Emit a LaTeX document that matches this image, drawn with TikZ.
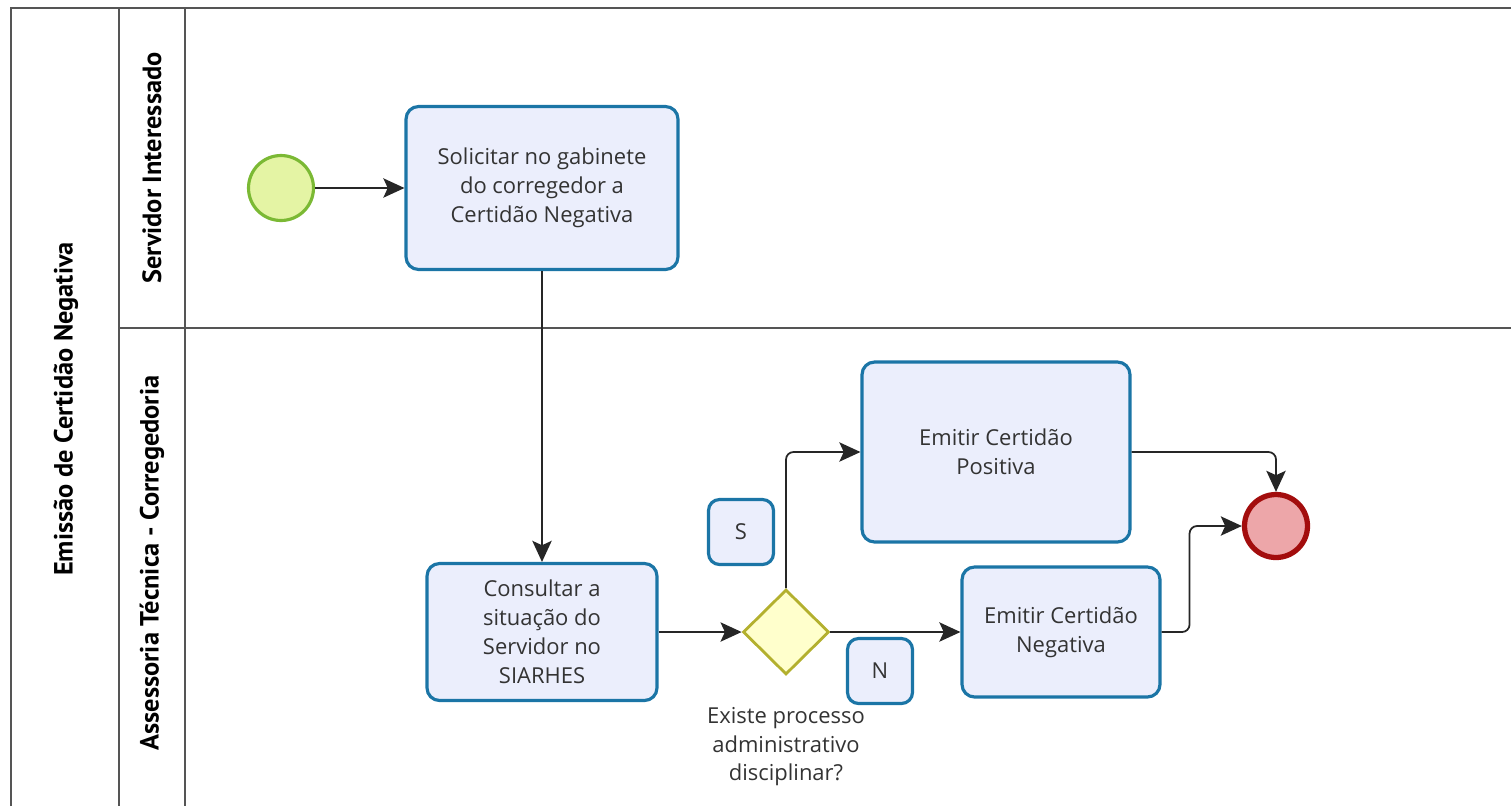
\documentclass[tikz,border=0pt]{standalone}
\usepackage{fontspec}
\setmainfont{Open Sans}
\newfontfamily\lanefont{PT Sans}
\usetikzlibrary{arrows.meta,shapes.geometric}
\definecolor{taskfill}{HTML}{EBEEFC}
\definecolor{taskline}{HTML}{1B75A6}
\definecolor{gwfill}{HTML}{FFFFCC}
\definecolor{gwline}{HTML}{B3B02E}
\definecolor{startfill}{HTML}{E4F4A4}
\definecolor{startline}{HTML}{7BB934}
\definecolor{endfill}{HTML}{EDA6A9}
\definecolor{endline}{HTML}{A30D0D}
\definecolor{textgray}{HTML}{333333}
\definecolor{poolline}{HTML}{555555}
\begin{document}
\begin{tikzpicture}[x=0.02cm,y=-0.02cm,
    task/.style={draw=taskline, fill=taskfill, line width=1.8pt, rounded corners=0.25cm,
      align=center, text=textgray, font=\fontsize{12.5}{16.5}\selectfont},
    tag/.style={task, minimum width=1.3cm, minimum height=1.3cm, rounded corners=0.22cm},
    flow/.style={draw=black!85, line width=1pt, rounded corners=0.15cm,
      -{Stealth[length=12pt,width=11pt,inset=2.5pt]}},
    lane/.style={rotate=90, text=black, font=\lanefont\bfseries\fontsize{15}{18}\selectfont},
    pool/.style={draw=poolline, line width=1.2pt}]
  \useasboundingbox (0,0) rectangle (1511,806);
  % pool and lanes
  \draw[pool] (11,806) -- (11,8) -- (1511,8);
  \draw[pool] (119,8) -- (119,806);
  \draw[pool] (185,8) -- (185,806);
  \draw[pool] (119,328) -- (1511,328);
  \node[lane] at (66,409) (pool) {Emissão de Certidão Negativa};
  \node[lane] at (152,168) (servidor) {Servidor Interessado};
  \node[lane] at (152,563) (assessoria) {Assessoria Técnica - Corregedoria};
  % events, tasks and gateway
  \node[circle, draw=startline, fill=startfill, line width=1.8pt, minimum size=1.3cm] at (281,188) (inicio) {};
  \node[task, minimum width=5.44cm, minimum height=3.26cm] at (542,188) (solicitar)
    {Solicitar no gabinete\\do corregedor a\\Certidão Negativa};
  \node[task, minimum width=4.6cm, minimum height=2.74cm] at (542,632) (consultar)
    {Consultar a\\situação do\\Servidor no\\SIARHES};
  \node[diamond, draw=gwline, fill=gwfill, line width=1.6pt, minimum width=1.72cm,
    minimum height=1.7cm, inner sep=0pt] at (786,632) (gw) {};
  \node[align=center, text=textgray, font=\fontsize{12.5}{16.2}\selectfont] at (786,747) (pergunta)
    {Existe processo\\administrativo\\disciplinar?};
  \node[task, minimum width=5.36cm, minimum height=3.6cm] at (996,452) (positiva)
    {Emitir Certidão\\Positiva};
  \node[task, minimum width=3.96cm, minimum height=2.6cm] at (1061,632) (negativa)
    {Emitir Certidão\\Negativa};
  \node[tag] at (741,532) (sim) {S};
  \node[tag] at (880,671) (nao) {N};
  \node[circle, draw=endline, fill=endfill, line width=3pt, minimum size=1.26cm] at (1276,526) (fim) {};
  % sequence flows
  \draw[flow] (inicio) -- (solicitar);
  \draw[flow] (solicitar) -- (consultar);
  \draw[flow] (consultar) -- (gw);
  \draw[flow] (gw.north) |- (positiva.west);
  \draw[flow] (gw.east) -- (negativa.west);
  \draw[flow] (positiva.east) -| (fim.north);
  \draw[flow] (negativa.east) -- ++(28,0) |- (fim.west);
\end{tikzpicture}
\end{document}
